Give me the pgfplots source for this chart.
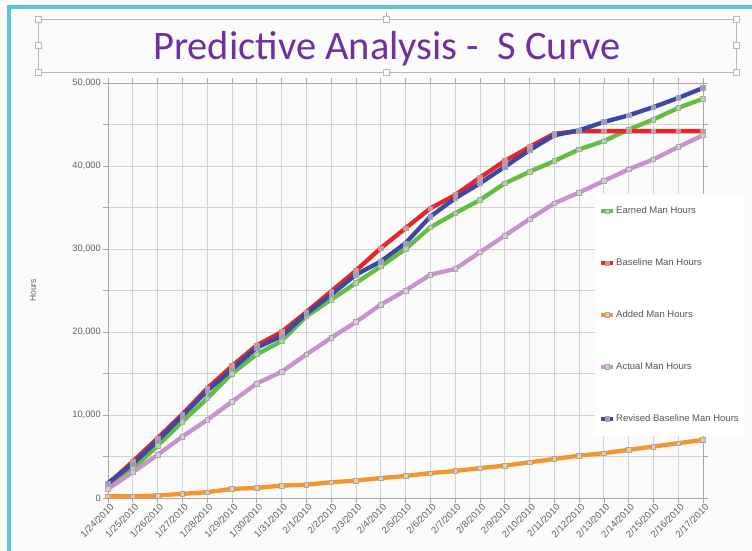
\documentclass[border=0pt]{standalone}
\usepackage{pgfplots}
\pgfplotsset{compat=1.18}
\usepackage{fontspec}
\setmainfont{Liberation Sans}
\newfontfamily\titlefont{Carlito}
\definecolor{bgcol}{HTML}{FBFBFB}
\definecolor{tealframe}{HTML}{5CC6CF}
\definecolor{titlecol}{HTML}{7030A0}
\definecolor{gridcol}{HTML}{D2D2D2}
\definecolor{labcol}{HTML}{606060}
\definecolor{cgreen}{HTML}{62BE3E}
\definecolor{cred}{HTML}{E8252B}
\definecolor{corange}{HTML}{F3962D}
\definecolor{cpurple}{HTML}{C892CE}
\definecolor{cblue}{HTML}{3A48A6}
\begin{document}
\begin{tikzpicture}[x=1pt,y=1pt]
\fill[bgcol] (0,0) rectangle (752,551);
\path[use as bounding box] (0,0) rectangle (752,551);
\draw[tealframe, line width=4pt] (9,0) -- (9,544) -- (752,544);
% title box with selection handles
\draw[gray!55, line width=0.8pt] (38,479) rectangle (736,532);
\draw[gray!55, line width=0.8pt] (386,532) -- (386,539);
\foreach \hx/\hy in {38/479,386/479,736/479,38/505.5,736/505.5,38/532,386/532,736/532}{
  \draw[gray!55, fill=white, line width=0.6pt] (\hx-3,\hy-3) rectangle (\hx+3,\hy+3);
}
\node[anchor=base, text=titlecol, font=\titlefont\fontsize{40.5}{40.5}\selectfont, inner sep=0pt] at (387,491) {Predictive Analysis -\ \ S Curve};
\begin{axis}[
  at={(108pt,53pt)}, anchor=south west,
  scale only axis, width=595pt, height=415pt,
  xmin=0, xmax=24, ymin=0, ymax=50000,
  clip=false,
  axis line style={draw=gridcol!80!black, line width=0.6pt},
  xtick={0,...,24},
  xticklabels={1/24/2010,1/25/2010,1/26/2010,1/27/2010,1/28/2010,1/29/2010,1/30/2010,1/31/2010,2/1/2010,2/2/2010,2/3/2010,2/4/2010,2/5/2010,2/6/2010,2/7/2010,2/8/2010,2/9/2010,2/10/2010,2/11/2010,2/12/2010,2/13/2010,2/14/2010,2/15/2010,2/16/2010,2/17/2010},
  ytick={0,10000,20000,30000,40000,50000},
  minor y tick num=1,
  scaled y ticks=false,
  /pgf/number format/1000 sep={,},
  /pgf/number format/assume math mode=true,
  tick align=outside, major tick length=5pt, minor tick length=5pt,
  tick style={draw=gridcol!80!black, line width=0.6pt},
  grid=both,
  major grid style={draw=gridcol, line width=0.7pt},
  minor grid style={draw=gridcol, line width=0.7pt},
  ticklabel style={text=labcol},
  xticklabel style={font=\fontsize{9.5}{10}\selectfont, rotate=45, anchor=north east, inner sep=1pt, xshift=2pt},
  yticklabel style={font=\fontsize{9.3}{10}\selectfont, inner sep=2pt},
  ylabel={Hours},
  ylabel style={at={(axis description cs:-0.126,0.5)}, anchor=center, font=\fontsize{8.5}{9}\selectfont, text=labcol},
  every axis plot/.append style={line width=4.3pt, line join=round, mark=square*, mark size=2.3pt},
  legend image code/.code={\draw[#1, line width=4.3pt, mark repeat=2, mark phase=2] plot coordinates {(0pt,0pt) (6pt,0pt) (12pt,0pt)};},
  legend style={at={(axis description cs:0.818,0.733)}, anchor=north west, draw=none, fill=white,
    font=\fontsize{9.5}{10}\selectfont, text=labcol!90!black, row sep=41.5pt, inner xsep=4pt, inner ysep=12pt,
    nodes={inner sep=1pt}},
  legend cell align=left,
]
\addplot[cgreen, mark options={fill=cgreen!55!white, draw=gray!70, line width=0.5pt}] coordinates {
(0,1300)(1,3500)(2,6300)(3,9200)(4,12000)(5,15000)(6,17300)(7,18900)(8,21900)(9,23900)(10,25900)(11,27900)(12,30000)(13,32600)(14,34300)(15,35900)(16,37900)(17,39300)(18,40600)(19,42000)(20,43000)(21,44400)(22,45600)(23,47000)(24,48100)};
\addlegendentry{Earned Man Hours}
\addplot[cred, mark options={fill=cred!55!white, draw=gray!70, line width=0.5pt}] coordinates {
(0,1700)(1,4400)(2,7200)(3,10100)(4,13200)(5,15900)(6,18400)(7,20000)(8,22400)(9,24900)(10,27400)(11,30100)(12,32500)(13,34900)(14,36500)(15,38600)(16,40600)(17,42300)(18,43900)(19,44200)(20,44200)(21,44200)(22,44200)(23,44200)(24,44200)};
\addlegendentry{Baseline Man Hours}
\addplot[corange, mark options={fill=corange!55!white, draw=gray!70, line width=0.5pt}] coordinates {
(0,200)(1,200)(2,300)(3,500)(4,700)(5,1100)(6,1200)(7,1500)(8,1600)(9,1900)(10,2100)(11,2400)(12,2650)(13,3000)(14,3250)(15,3600)(16,3900)(17,4300)(18,4700)(19,5100)(20,5400)(21,5800)(22,6200)(23,6600)(24,7000)};
\addlegendentry{Added Man Hours}
\addplot[cpurple, mark options={fill=cpurple!55!white, draw=gray!70, line width=0.5pt}] coordinates {
(0,1100)(1,3100)(2,5200)(3,7400)(4,9400)(5,11600)(6,13800)(7,15200)(8,17300)(9,19300)(10,21200)(11,23300)(12,25000)(13,26900)(14,27600)(15,29600)(16,31600)(17,33600)(18,35500)(19,36800)(20,38200)(21,39600)(22,40800)(23,42300)(24,43700)};
\addlegendentry{Actual Man Hours}
\addplot[cblue, mark options={fill=cblue!55!white, draw=gray!70, line width=0.5pt}] coordinates {
(0,1800)(1,4100)(2,6900)(3,9900)(4,12900)(5,15500)(6,18100)(7,19500)(8,22200)(9,24500)(10,26900)(11,28500)(12,30700)(13,33900)(14,36100)(15,37900)(16,39900)(17,41900)(18,43700)(19,44300)(20,45300)(21,46100)(22,47100)(23,48200)(24,49400)};
\addlegendentry{Revised Baseline Man Hours}
\end{axis}
\end{tikzpicture}
\end{document}
